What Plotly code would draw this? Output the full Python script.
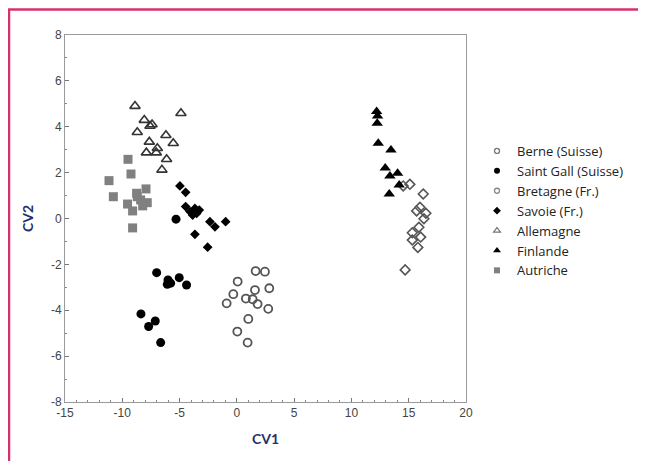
import plotly.graph_objects as go

# ---- data ----
berne_x = [1.64, 2.45, 0.07, 2.83, -0.31, 1.58, 0.79, 1.38, 1.81, -0.89, 2.74, 1.0, 0.04, 0.94]
berne_y = [-2.29, -2.32, -2.75, -3.04, -3.30, -3.12, -3.49, -3.52, -3.73, -3.70, -3.94, -4.38, -4.93, -5.41]

stgall_x = [-5.31, -7.0, -6.01, -5.03, -4.39, -6.07, -5.78, -8.37, -7.12, -7.7, -6.65]
stgall_y = [-0.03, -2.36, -2.68, -2.58, -2.90, -2.87, -2.82, -4.16, -4.47, -4.71, -5.41]

bretagne_x = [14.52, 15.1, 16.27, 15.98, 15.69, 16.5, 16.33, 15.89, 15.31, 16.04, 15.31, 15.8, 14.69]
bretagne_y = [1.42, 1.49, 1.07, 0.49, 0.33, 0.23, -0.01, -0.38, -0.62, -0.81, -0.94, -1.26, -2.24]

savoie_x = [-4.97, -4.47, -4.47, -4.09, -3.66, -3.28, -3.86, -3.51, -2.35, -1.91, -0.98, -3.66, -2.55]
savoie_y = [1.42, 1.14, 0.52, 0.30, 0.44, 0.37, 0.15, 0.22, -0.14, -0.36, -0.14, -0.69, -1.25]

allemagne_x = [-8.89, -4.88, -8.08, -7.58, -8.69, -6.19, -7.64, -5.55, -6.94, -7.9, -7.03, -6.13, -6.54, -7.4]
allemagne_y = [4.90, 4.59, 4.29, 4.03, 3.76, 3.63, 3.34, 3.28, 3.06, 2.87, 2.87, 2.58, 2.12, 4.1]

finlande_x = [12.2, 12.28, 12.25, 12.34, 13.45, 12.95, 14.03, 13.36, 14.17, 13.30]
finlande_y = [4.66, 4.47, 4.15, 3.28, 2.99, 2.20, 1.97, 1.85, 1.46, 1.07]

autriche_x = [-9.5, -9.24, -11.16, -10.78, -7.93, -9.54, -8.69, -8.4, -7.82, -9.1, -8.22, -9.1, -8.75]
autriche_y = [2.58, 1.94, 1.65, 0.95, 1.29, 0.63, 0.95, 0.81, 0.69, 0.33, 0.55, -0.41, 1.1]

x_ticks = [-15, -10, -5, 0, 5, 10, 15, 20]
y_ticks = [-8, -6, -4, -2, 0, 2, 4, 6, 8]

series = [
    ("Berne (Suisse)", berne_x, berne_y,
     dict(symbol="circle-open", size=8, color="#555555", line=dict(width=1.8)),
     dict(symbol="circle-open", size=5, color="#777777", line=dict(width=1.3))),
    ("Saint Gall (Suisse)", stgall_x, stgall_y,
     dict(symbol="circle", size=9, color="#000000"),
     dict(symbol="circle", size=6, color="#000000")),
    ("Bretagne (Fr.)", bretagne_x, bretagne_y,
     dict(symbol="diamond-open", size=7.5, color="#555555", line=dict(width=1.6)),
     dict(symbol="circle-open", size=5, color="#888888", line=dict(width=1.3))),
    ("Savoie (Fr.)", savoie_x, savoie_y,
     dict(symbol="diamond", size=7.5, color="#000000"),
     dict(symbol="diamond", size=6, color="#000000")),
    ("Allemagne", allemagne_x, allemagne_y,
     dict(symbol="triangle-up-open", size=9, color="#333333", line=dict(width=1.6)),
     dict(symbol="triangle-up-open", size=6, color="#777777", line=dict(width=1.2))),
    ("Finlande", finlande_x, finlande_y,
     dict(symbol="triangle-up", size=10, color="#000000"),
     dict(symbol="triangle-up", size=7, color="#000000")),
    ("Autriche", autriche_x, autriche_y,
     dict(symbol="square", size=9, color="#808080"),
     dict(symbol="square", size=6, color="#808080")),
]

fig = go.Figure()
for name, xs, ys, mk, lmk in series:
    fig.add_trace(go.Scatter(x=xs, y=ys, mode="markers", name=name, marker=mk,
                             legendgroup=name, showlegend=False))
    fig.add_trace(go.Scatter(x=[None], y=[None], mode="markers", name=name, marker=lmk,
                             legendgroup=name, showlegend=True))

axis_common = dict(
    showgrid=False, zeroline=False, showline=True, mirror=True,
    linecolor="#9a9a9a", linewidth=1,
    ticks="inside", ticklen=4, tickcolor="#777777",
    tickfont=dict(family="Liberation Sans, Arial", size=12, color="#444444"),
    minor=dict(ticks="inside", ticklen=2, dtick=1, tickcolor="#888888", showgrid=False),
)

# page has an 8px body margin, so figure coordinates = page coordinates - 8
L, T = 57, 27
PW, PH = 401, 367
W, H = 646, 461

fig.update_layout(
    width=W, height=H,
    margin=dict(l=L, r=W - L - PW, t=T, b=H - T - PH),
    paper_bgcolor="white", plot_bgcolor="white",
    xaxis=dict(range=[-15, 20], tickvals=x_ticks, ticktext=[str(v) for v in x_ticks],
               title=dict(text="<b>CV1</b>", font=dict(family="Lato", size=14, color="#1f2f6b"), standoff=14),
               **axis_common),
    yaxis=dict(range=[-8, 8], tickvals=y_ticks, ticktext=[str(v) for v in y_ticks],
               title=dict(text="<b>CV2</b>", font=dict(family="Lato", size=14, color="#1f2f6b"), standoff=14),
               **axis_common),
    legend=dict(x=(477 - 8 - L) / PW, y=(T + PH - (136 - 8)) / PH, xanchor="left", yanchor="top",
                font=dict(family="Open Sans", size=13, color="#222222"),
                bgcolor="rgba(0,0,0,0)", tracegroupgap=0),
    showlegend=True,
)

def px_x(p):  # page px -> paper x
    return (p - 8 - L) / PW

def px_y(p):  # page px -> paper y
    return (T + PH - (p - 8)) / PH

# pink frame (left and top edges)
fig.add_shape(type="line", xref="paper", yref="paper",
              x0=px_x(9), x1=px_x(9), y0=px_y(9), y1=px_y(480),
              line=dict(color="#d8306f", width=2.5))
fig.add_shape(type="line", xref="paper", yref="paper",
              x0=px_x(8), x1=px_x(660), y0=px_y(9.5), y1=px_y(9.5),
              line=dict(color="#d8306f", width=2.5))

fig.write_html("out.html")
